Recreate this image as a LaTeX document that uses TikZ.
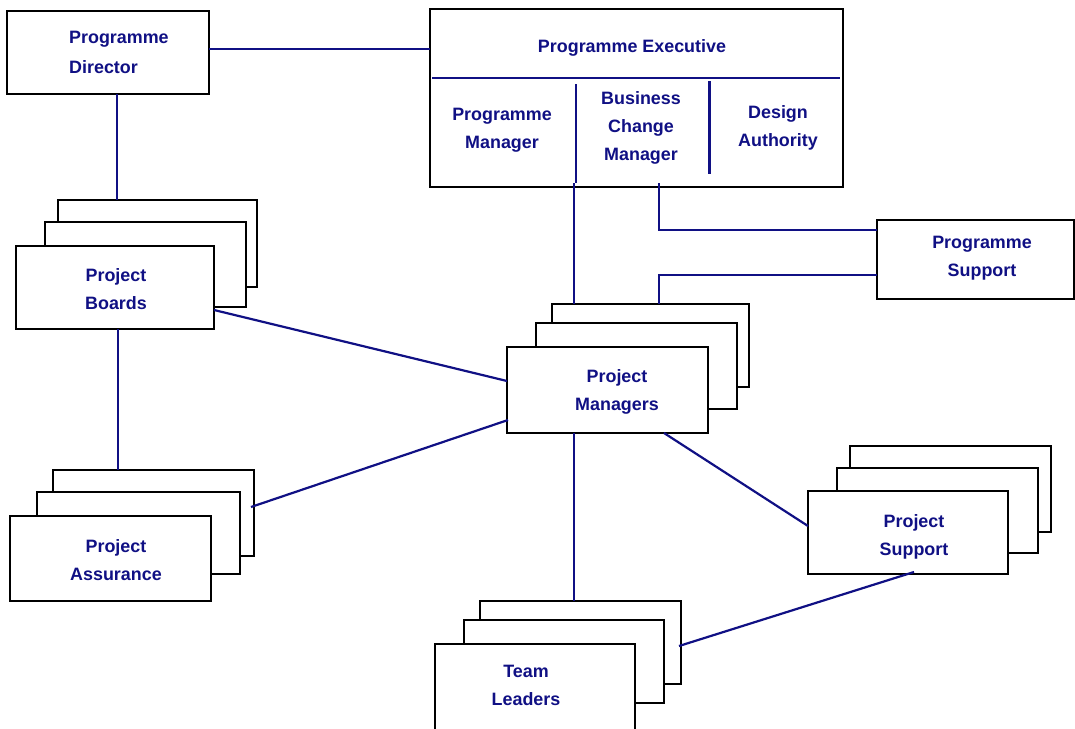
\documentclass[tikz,border=0pt]{standalone}
\usepackage{fontspec}
\setmainfont{Liberation Sans}
\usetikzlibrary{calc}
\definecolor{navy}{RGB}{16,16,132}
\begin{document}
\begin{tikzpicture}[x=1pt,y=-1pt,
  box/.style={draw=black, line width=2.6pt, fill=white, rectangle, inner sep=0pt, outer sep=0pt},
  link/.style={draw=navy, line width=2.2pt},
  lbl/.style={text=navy, font=\bfseries\fontsize{17.9}{28}\selectfont, align=center, inner sep=0pt},
]
\useasboundingbox (0,0) rectangle (1075,728);

% single boxes
\node[box, minimum width=202pt, minimum height=83pt] (dir) at (108,52.5) {};
\node[box, minimum width=413pt, minimum height=178pt] (exec) at (636.5,98) {};
\node[box, minimum width=197pt, minimum height=79pt] (ps) at (975.5,259.5) {};

% Project Boards stack
\node[box, minimum width=199pt, minimum height=87pt] (pbBack) at (157.5,243.5) {};
\node[box, minimum width=201pt, minimum height=85pt] (pbMid) at (145.5,264.5) {};
\node[box, minimum width=198pt, minimum height=83pt] (pbFront) at (115,287.5) {};

% Project Managers stack
\node[box, minimum width=197pt, minimum height=83pt] (pmBack) at (650.5,345.5) {};
\node[box, minimum width=201pt, minimum height=86pt] (pmMid) at (636.5,366) {};
\node[box, minimum width=201pt, minimum height=86pt] (pmFront) at (607.5,390) {};

% Project Assurance stack
\node[box, minimum width=201pt, minimum height=86pt] (paBack) at (153.5,513) {};
\node[box, minimum width=203pt, minimum height=82pt] (paMid) at (138.5,533) {};
\node[box, minimum width=201pt, minimum height=85pt] (paFront) at (110.5,558.5) {};

% Project Support stack
\node[box, minimum width=201pt, minimum height=86pt] (psBack) at (950.5,489) {};
\node[box, minimum width=201pt, minimum height=85pt] (psMid) at (937.5,510.5) {};
\node[box, minimum width=200pt, minimum height=83pt] (psFront) at (908,532.5) {};

% Team Leaders stack
\node[box, minimum width=201pt, minimum height=83pt] (tlBack) at (580.5,642.5) {};
\node[box, minimum width=200pt, minimum height=83pt] (tlMid) at (564,661.5) {};
\node[box, minimum width=200pt, minimum height=86pt] (tlFront) at (535,687) {};

% dividers inside the executive box
\coordinate (hL) at (432,78);
\coordinate (hR) at (840,78);
\coordinate (v1t) at (576,84);
\coordinate (v1b) at (576,183);
\coordinate (v2t) at (709.5,81);
\coordinate (v2b) at (709.5,174);
\coordinate (bcm) at (659,183);
\draw[link] (hL) -- (hR);
\draw[link] (v1t) -- (v1b);
\draw[link] (v2t) -- (v2b);

% labels
\node[lbl, align=left, anchor=west, font=\bfseries\fontsize{17.9}{30}\selectfont] (dirText) at (69,52) {Programme\\Director};
\node[lbl] (execText) at (632,48) {Programme Executive};
\node[lbl] (pgmText) at (502,130.5) {Programme\\Manager};
\node[lbl] (bcmText) at (641,128) {Business\\Change\\Manager};
\node[lbl] (daText) at (778,128) {Design\\Authority};
\node[lbl] (psText) at (982,258.5) {Programme\\Support};
\node[lbl] (pbText) at (116,289.5) {Project\\Boards};
\node[lbl] (pmText) at (617,392) {Project\\Managers};
\node[lbl] (paText) at (116,560) {Project\\Assurance};
\node[lbl] (psfText) at (914,536.5) {Project\\Support};
\node[lbl] (tlText) at (526,685.5) {Team\\Leaders};

% connectors
\draw[link] ([yshift=3.5pt]dir.east) -- ([yshift=3.5pt]dir.east -| exec.west);
\draw[link] ([xshift=9pt]dir.south) -- ([xshift=9pt]dir.south |- pbBack.north);
\draw[link] ([xshift=3pt]pbFront.south) -- ([xshift=3pt]pbFront.south |- paBack.north);
\draw[link] ([yshift=19pt]pbFront.south east) -- ([yshift=9pt]pmFront.west);
\draw[link] ([xshift=-3pt,yshift=6pt]paBack.east) -- ([xshift=1pt,yshift=-30pt]pmFront.west);
\draw[link] ([xshift=-2pt]v1b) -- ([xshift=-2pt]v1b |- pmBack.north);
\draw[link] (bcm) |- ([yshift=29.5pt]ps.west);
\draw[link] ([yshift=-15.5pt]ps.west) -| ([xshift=8.5pt]pmBack.north);
\draw[link] ([xshift=-33.5pt]pmFront.south) -- ([xshift=-33.5pt]pmFront.south |- tlBack.north);
\draw[link] ([xshift=56.5pt]pmFront.south) -- ([yshift=6.5pt]psFront.west);
\draw[link] ([xshift=6pt,yshift=2pt]psFront.south) -- ([xshift=-2pt,yshift=-3.5pt]tlBack.east);
\end{tikzpicture}
\end{document}
